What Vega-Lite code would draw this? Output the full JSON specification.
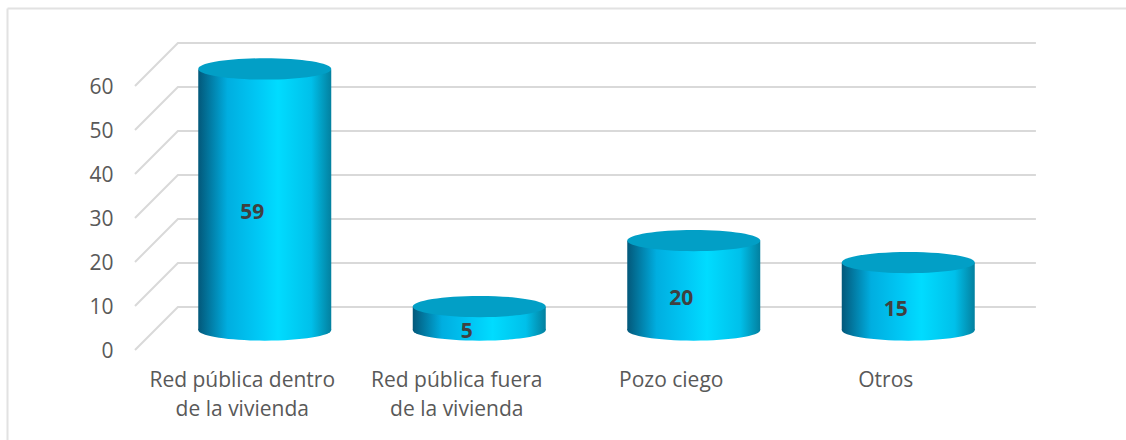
{
  "$schema": "https://vega.github.io/schema/vega-lite/v6.json",
  "autosize": "none",
  "padding": {"left": 7, "top": 8, "right": 0, "bottom": 0},
  "width": 1119,
  "height": 432,
  "background": "white",
  "view": {"stroke": null},
  "datasets": {
    "bars": [
      {"categoria": "Red pública dentro de la vivienda", "valor": 59},
      {"categoria": "Red pública fuera de la vivienda", "valor": 5},
      {"categoria": "Pozo ciego", "valor": 20},
      {"categoria": "Otros", "valor": 15}
    ],
    "grid": [
      {"tick": 0, "u": 0, "v": 0}, {"tick": 0, "u": 0.2, "v": 9.77}, {"tick": 0, "u": 4.2, "v": 9.77},
      {"tick": 10, "u": 0, "v": 10}, {"tick": 10, "u": 0.2, "v": 19.77}, {"tick": 10, "u": 4.2, "v": 19.77},
      {"tick": 20, "u": 0, "v": 20}, {"tick": 20, "u": 0.2, "v": 29.77}, {"tick": 20, "u": 4.2, "v": 29.77},
      {"tick": 30, "u": 0, "v": 30}, {"tick": 30, "u": 0.2, "v": 39.77}, {"tick": 30, "u": 4.2, "v": 39.77},
      {"tick": 40, "u": 0, "v": 40}, {"tick": 40, "u": 0.2, "v": 49.77}, {"tick": 40, "u": 4.2, "v": 49.77},
      {"tick": 50, "u": 0, "v": 50}, {"tick": 50, "u": 0.2, "v": 59.77}, {"tick": 50, "u": 4.2, "v": 59.77},
      {"tick": 60, "u": 0, "v": 60}, {"tick": 60, "u": 0.2, "v": 69.77}, {"tick": 60, "u": 4.2, "v": 69.77}
    ]
  },
  "layer": [
    {
      "data": {"name": "grid"},
      "mark": {"type": "line", "color": "#d9d9d9", "strokeWidth": 2, "interpolate": "linear"},
      "encoding": {
        "x": {"field": "u", "type": "quantitative", "title": null,
          "scale": {"domain": [-0.5967, 4.62], "range": [0, 1119], "nice": false, "zero": false},
          "axis": {"orient": "top", "labels": false, "ticks": false, "grid": false, "domain": true, "domainColor": "#e2e2e2", "domainWidth": 2, "title": null}},
        "y": {"field": "v", "type": "quantitative", "title": null,
          "scale": {"domain": [-20.45, 77.73], "range": [432, 0], "nice": false, "zero": false},
          "axis": {"values": [0, 10, 20, 30, 40, 50, 60], "domain": true, "domainColor": "#e2e2e2", "domainWidth": 2, "ticks": false, "grid": false, "labelPadding": -106, "labelOffset": 1, "labelFont": "Open Sans", "labelFontSize": 21, "labelColor": "#595959"}},
        "detail": {"field": "tick"},
        "order": {"field": "u"}
      }
    },
    {
      "data": {"name": "bars"},
      "resolve": {"scale": {"x": "independent", "y": "independent"}},
      "layer": [
        {
          "mark": {"type": "bar", "size": 133, "xOffset": 22.5, "yOffset": -21, "y2Offset": -20,
            "color": {"gradient": "linear", "x1": 0, "x2": 1, "y1": 0, "y2": 0, "stops": [
              {"offset": 0, "color": "#03587a"},
              {"offset": 0.22, "color": "#00aee0"},
              {"offset": 0.45, "color": "#00c8f5"},
              {"offset": 0.6, "color": "#00dcff"},
              {"offset": 0.85, "color": "#00c0ea"},
              {"offset": 1, "color": "#03809f"}
            ]}},
          "encoding": {
            "x": {"field": "categoria", "type": "nominal", "sort": null, "title": null,
              "scale": {"type": "band", "domain": ["Red pública dentro de la vivienda", "Red pública fuera de la vivienda", "Pozo ciego", "Otros"], "range": [128, 986], "paddingInner": 0, "paddingOuter": 0},
              "axis": {"domain": false, "ticks": false, "grid": false, "labelAngle": 0, "labelPadding": -71, "labelLimit": 400, "labelFont": "Open Sans", "labelFontSize": 21, "labelColor": "#595959", "labelLineHeight": 29, "labelBaseline": "top",
                "labelExpr": "datum.index < 0.3 ? ['Red pública dentro', 'de la vivienda'] : datum.index < 0.6 ? ['Red pública fuera', 'de la vivienda'] : datum.label"}},
            "y": {"field": "valor", "type": "quantitative", "axis": null, "scale": {"domain": [-20.45, 77.73], "range": [432, 0], "nice": false, "zero": false}},
            "y2": {"datum": 0}
          }
        },
        {
          "mark": {"type": "point", "filled": true, "opacity": 1, "xOffset": 22.5, "yOffset": -20, "size": 17689,
            "shape": "M-1,0A1,0.16 0 0 0 1,0A1,0.16 0 0 0 -1,0Z",
            "color": {"gradient": "linear", "x1": 0, "x2": 1, "y1": 0, "y2": 0, "stops": [
              {"offset": 0, "color": "#03587a"},
              {"offset": 0.22, "color": "#00aee0"},
              {"offset": 0.45, "color": "#00c8f5"},
              {"offset": 0.6, "color": "#00dcff"},
              {"offset": 0.85, "color": "#00c0ea"},
              {"offset": 1, "color": "#03809f"}
            ]}},
          "encoding": {
            "x": {"field": "categoria", "type": "nominal", "sort": null, "axis": null,
              "scale": {"type": "band", "domain": ["Red pública dentro de la vivienda", "Red pública fuera de la vivienda", "Pozo ciego", "Otros"], "range": [128, 986], "paddingInner": 0, "paddingOuter": 0}},
            "y": {"datum": 0, "type": "quantitative", "axis": null, "scale": {"domain": [-20.45, 77.73], "range": [432, 0], "nice": false, "zero": false}}
          }
        },
        {
          "mark": {"type": "point", "filled": true, "opacity": 1, "color": "#029fc6", "xOffset": 22.5, "yOffset": -21.5, "size": 17689,
            "shape": "M-1,0A1,0.16 0 0 0 1,0A1,0.16 0 0 0 -1,0Z"},
          "encoding": {
            "x": {"field": "categoria", "type": "nominal", "sort": null, "axis": null,
              "scale": {"type": "band", "domain": ["Red pública dentro de la vivienda", "Red pública fuera de la vivienda", "Pozo ciego", "Otros"], "range": [128, 986], "paddingInner": 0, "paddingOuter": 0}},
            "y": {"field": "valor", "type": "quantitative", "axis": null, "scale": {"domain": [-20.45, 77.73], "range": [432, 0], "nice": false, "zero": false}}
          }
        },
        {
          "mark": {"type": "text", "font": "Open Sans", "fontWeight": "bold", "fontSize": 21, "color": "#404040", "xOffset": 10, "yOffset": -7},
          "encoding": {
            "x": {"field": "categoria", "type": "nominal", "sort": null, "axis": null,
              "scale": {"type": "band", "domain": ["Red pública dentro de la vivienda", "Red pública fuera de la vivienda", "Pozo ciego", "Otros"], "range": [128, 986], "paddingInner": 0, "paddingOuter": 0}},
            "y": {"field": "valor", "type": "quantitative", "axis": null, "scale": {"domain": [-40.9, 155.46], "range": [432, 0], "nice": false, "zero": false}},
            "text": {"field": "valor", "type": "quantitative"}
          }
        }
      ]
    }
  ],
  "resolve": {"scale": {"x": "independent", "y": "independent"}}
}
